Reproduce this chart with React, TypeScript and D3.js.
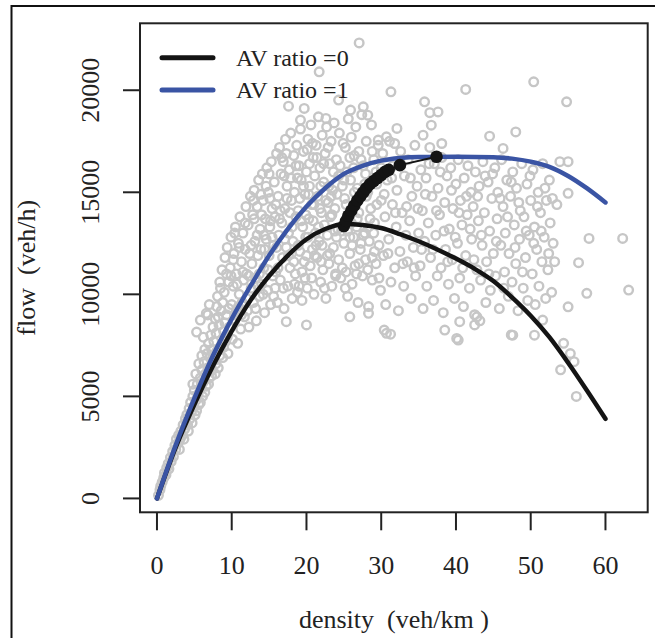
import React, { useEffect, useRef } from 'react'
import * as d3 from 'd3'

// axis ticks
const densityTicks = [0, 10, 20, 30, 40, 50, 60]
const flowTicks = [0, 5000, 10000, 15000, 20000]

// legend
const legendLabels = ['AV ratio =0', 'AV ratio =1']
const legendColors = ['#141414', '#3a54a4']

// fundamental diagram, AV ratio = 0
const curveAv0: [number, number][] = [
  [0, 0], [2.5, 2500], [5, 4600], [7.5, 6500], [10, 8200], [12.5, 9700], [15, 10900],
  [17.5, 11900], [20, 12700], [22.5, 13200], [25, 13450], [27.5, 13400], [30, 13250],
  [32.5, 12950], [35, 12600], [37.5, 12200], [40, 11750], [42.5, 11250], [45, 10650],
  [47.5, 9850], [50, 8950], [52.5, 7900], [55, 6650], [57.5, 5300], [60, 3900],
]

// fundamental diagram, AV ratio = 1
const curveAv1: [number, number][] = [
  [0, 0], [2.5, 2600], [5, 4900], [7.5, 7000], [10, 8800], [12.5, 10400], [15, 11900],
  [17.5, 13200], [20, 14300], [22.5, 15200], [25, 15900], [27.5, 16300], [30, 16550],
  [32.5, 16680], [35, 16730], [40, 16740], [45, 16720], [47.5, 16650], [50, 16500],
  [52.5, 16250], [55, 15800], [57.5, 15200], [60, 14500],
]

// capacity points as the AV ratio grows
const capacityPoints: [number, number][] = [
  [25.0, 13350], [25.3, 13600], [25.6, 13850], [26.0, 14100], [26.4, 14350], [26.8, 14600],
  [27.2, 14800], [27.6, 15000], [28.0, 15200], [28.5, 15400], [29.0, 15550], [29.5, 15700],
  [30.0, 15850], [30.5, 16000], [31.0, 16100], [32.5, 16330], [37.4, 16740],
]

// observed detector data (density, flow)
const observed: [number, number][] = [
  [0.2, 150], [0.4, 420], [0.5, 600], [0.7, 800], [0.9, 1000], [1.0, 1250], [1.2, 1150], [1.3, 1500],
  [1.5, 1700], [1.6, 1450], [1.8, 2000], [1.9, 1800], [2.1, 2300], [2.2, 2050], [2.4, 2600], [2.5, 2400],
  [2.6, 2900], [2.8, 2700], [2.9, 3100], [3.1, 2900], [3.2, 3300], [3.4, 3100], [3.5, 3600], [3.7, 3400],
  [3.8, 3900], [3.9, 3700],
  [3.0, 2400], [3.6, 2900], [4.2, 3300], [4.7, 3700], [5.3, 4300], [5.8, 4700], [6.4, 5200], [6.9, 5600],
  [7.3, 6000], [7.9, 6600], [8.4, 7000], [8.9, 7400], [9.4, 7900], [9.9, 8400], [10.4, 9000], [10.9, 9400],
  [4.0, 4100], [4.1, 3600], [4.3, 4400], [4.4, 3900], [4.5, 4700], [4.6, 4200], [4.8, 5000], [4.9, 4500],
  [5.0, 5300], [5.1, 4100], [5.2, 4800], [5.4, 5600], [5.5, 5100], [5.6, 4600], [5.8, 5900], [5.9, 5400],
  [6.0, 6300], [6.1, 5000], [6.2, 5700], [6.3, 6700], [6.5, 6100], [6.6, 5500], [6.7, 7100], [6.8, 6400],
  [6.9, 7600], [7.0, 5900], [7.1, 6900], [7.2, 8000], [7.3, 7300], [7.4, 6300], [7.5, 8400], [7.6, 7700],
  [7.7, 6800], [7.8, 8800], [7.9, 8100], [8.0, 7200],
  [5.8, 8740], [6.6, 9070], [5.3, 8150], [6.2, 7900], [7.0, 9500], [6.8, 8990],
  [4.8, 5600], [5.2, 6100], [5.6, 6600], [6.0, 7000], [6.4, 7300], [7.5, 7000], [7.8, 6100], [8.0, 9400],
  [8.1, 9900], [8.2, 6400], [8.3, 8500], [8.4, 10600], [8.5, 7400], [8.6, 9200], [8.7, 11200], [8.8, 6900],
  [8.9, 8200], [9.0, 10100], [9.1, 11800], [9.2, 7700], [9.3, 9000], [9.4, 12300], [9.5, 7100], [9.6, 10600],
  [9.7, 8400], [9.8, 11300], [9.9, 12800], [10.0, 9500], [10.1, 7800], [10.2, 10400], [10.3, 12000], [10.4, 8700],
  [10.5, 13300], [10.6, 11000], [10.7, 9200], [10.8, 7600], [10.9, 12500], [11.0, 10000], [11.1, 13800], [11.2, 8300],
  [11.3, 11600], [11.4, 9600], [11.5, 13000], [11.6, 10700], [11.7, 8900], [11.8, 12200], [11.9, 14300], [12.0, 11000],
  [8.2, 8900], [8.5, 10300], [8.8, 9600], [9.1, 8600], [9.3, 11000], [9.6, 9300], [9.9, 10900], [10.2, 11700],
  [10.4, 13000], [10.7, 10500], [11.0, 12300], [11.3, 9000], [11.5, 11100], [11.8, 13500], [12.0, 9800],
  [12.1, 9200], [12.2, 13400], [12.3, 8400], [12.4, 12000], [12.5, 14800], [12.6, 10300], [12.7, 11500], [12.8, 13900],
  [12.9, 9600], [13.0, 15100], [13.1, 12600], [13.2, 10800], [13.3, 8700], [13.4, 14300], [13.5, 11900], [13.6, 15600],
  [13.7, 9900], [13.8, 13200], [13.9, 12200], [14.0, 10500], [14.1, 15900], [14.2, 14600], [14.3, 11300], [14.4, 9100],
  [14.5, 13700], [14.6, 12700], [14.7, 16200], [14.8, 10200], [14.9, 15000], [15.0, 11900], [15.1, 13300], [15.2, 9500],
  [15.3, 16500], [15.4, 14200], [15.5, 10900], [15.6, 12400], [15.7, 15500], [15.8, 13800], [15.9, 11100], [16.0, 16900],
  [12.3, 10900], [12.6, 12400], [12.9, 14600], [13.2, 9300], [13.4, 12900], [13.7, 11000], [13.9, 14900], [14.2, 10000],
  [14.4, 12200], [14.6, 15300], [14.9, 11200], [15.1, 14700], [15.4, 12800], [15.6, 9900], [15.9, 14400], [13.0, 13700],
  [14.0, 13900], [15.0, 15900],
  [13.5, 10400], [14.3, 12900], [15.2, 13600], [15.8, 10300], [16.5, 14100], [17.3, 16900], [17.8, 14000], [18.3, 11600],
  [18.8, 15700], [19.3, 13600], [19.8, 10800], [20.3, 14900], [20.8, 17400], [21.3, 12400], [21.8, 14200], [22.3, 16400],
  [22.8, 11900], [23.3, 14800], [23.8, 13100], [24.3, 15800], [24.8, 11300], [25.3, 14400], [25.8, 12800], [26.3, 16200],
  [26.8, 13700], [27.3, 12500], [27.8, 15400], [28.3, 13300], [28.8, 11800], [29.3, 16000],
  [16.1, 9600], [16.2, 14800], [16.3, 12900], [16.4, 17200], [16.5, 10700], [16.6, 15900], [16.7, 13500], [16.8, 11800],
  [16.9, 16500], [17.0, 9300], [17.1, 14200], [17.2, 17600], [17.3, 12300], [17.4, 15300], [17.5, 10400], [17.6, 13000],
  [17.7, 16100], [17.8, 11300], [17.9, 17900], [18.0, 14600], [18.1, 9800], [18.2, 12600], [18.3, 16800], [18.4, 15000],
  [18.5, 11000], [18.6, 13800], [18.7, 17300], [18.8, 10100], [18.9, 14100], [19.0, 16300], [19.1, 12100], [19.2, 18100],
  [19.3, 15600], [19.4, 9700], [19.5, 13300], [19.6, 17000], [19.7, 11600], [19.8, 14900], [19.9, 12800], [20.0, 16000],
  [16.2, 11300], [16.4, 13700], [16.7, 16700], [16.9, 10300], [17.1, 12700], [17.4, 14700], [17.6, 11900], [17.9, 15700],
  [18.1, 13300], [18.4, 10500], [18.6, 16300], [18.9, 12400], [19.1, 14700], [19.4, 11100], [19.6, 15300], [19.9, 13900],
  [16.0, 12300], [17.0, 15800], [18.0, 12000], [19.0, 10400], [20.0, 11900], [20.1, 17100],
  [20.1, 10300], [20.2, 17600], [20.3, 13700], [20.4, 15300], [20.5, 11400], [20.6, 18300], [20.7, 14400], [20.8, 12200],
  [20.9, 16700], [21.0, 10000], [21.1, 15800], [21.2, 13000], [21.3, 17300], [21.4, 11800], [21.5, 14800], [21.6, 18700],
  [21.7, 12600], [21.8, 16200], [21.9, 10600], [22.0, 14000], [22.1, 17800], [22.2, 11200], [22.3, 15500], [22.4, 13400],
  [22.5, 16900], [22.6, 9800], [22.7, 18200], [22.8, 12900], [22.9, 14500], [23.0, 11500], [23.1, 16400], [23.2, 13800],
  [23.3, 17500], [23.4, 10400], [23.5, 15100], [23.6, 12300], [23.7, 18400], [23.8, 14200], [23.9, 11000], [24.0, 16600],
  [24.2, 13200], [24.4, 17900], [24.6, 10800], [24.8, 15300], [25.0, 12500],
  [20.2, 12800], [20.4, 16400], [20.7, 10800], [20.9, 13600], [21.1, 11900], [21.4, 16700], [21.6, 13300], [21.9, 15300],
  [22.1, 12400], [22.4, 10300], [22.6, 14600], [22.9, 17200], [23.1, 12000], [23.4, 13900], [23.6, 16000], [23.9, 10900],
  [24.1, 14900], [24.3, 11700], [24.5, 16300], [24.7, 13100], [24.9, 17400], [21.0, 14400], [22.0, 11600], [23.0, 15300],
  [24.0, 12800],
  [25.1, 14700], [25.2, 17200], [25.3, 11100], [25.4, 16000], [25.5, 9900], [25.6, 18600], [25.7, 13600], [25.8, 12000],
  [25.9, 15600], [26.0, 17700], [26.1, 10500], [26.2, 14300], [26.3, 12800], [26.4, 16800], [26.5, 11400], [26.6, 18200],
  [26.7, 13300], [26.8, 15200], [26.9, 9600], [27.0, 17000], [27.2, 12200], [27.3, 14900], [27.4, 18800], [27.5, 10900],
  [27.6, 16300], [27.8, 13000], [27.9, 11700], [28.0, 17500], [28.2, 15000], [28.3, 9400], [28.4, 12600], [28.6, 14200],
  [28.7, 18300], [28.8, 10700], [29.0, 16600], [29.1, 13500], [29.3, 11500], [29.4, 15400], [29.6, 17300], [29.7, 12400],
  [29.9, 10200], [30.0, 14600],
  [25.2, 10300], [25.5, 13100], [25.8, 16700], [26.1, 12400], [26.4, 15000], [26.7, 11000], [27.0, 14000], [27.3, 16600],
  [27.6, 12900], [27.9, 15900], [28.2, 11200], [28.5, 13700], [28.8, 17000], [29.1, 12100], [29.4, 14400], [29.7, 10800],
  [30.0, 16200], [25.0, 15600], [26.0, 13500], [27.0, 11500], [28.0, 14800], [29.0, 13000],
  [30.2, 16900], [30.3, 11900], [30.5, 13800], [30.6, 9500], [30.8, 15600], [31.0, 12700], [31.1, 17500], [31.3, 10600],
  [31.5, 14400], [31.6, 16300], [31.8, 11300], [32.0, 13300], [32.1, 15100], [32.3, 9200], [32.5, 12100], [32.6, 17000],
  [32.8, 14000], [33.0, 10400], [33.1, 15800], [33.3, 12900], [33.5, 11600], [33.6, 16600], [33.8, 13600], [34.0, 9800],
  [34.1, 14800], [34.3, 12300], [34.5, 17300], [34.6, 10900], [34.8, 15300], [35.0, 13000],
  [30.4, 14900], [30.9, 12000], [31.4, 15700], [31.9, 14000], [32.4, 16400], [32.9, 11500], [33.4, 14300], [33.9, 15700],
  [34.4, 11300], [34.9, 14200],
  [35.2, 11400], [35.3, 16100], [35.5, 14100], [35.6, 9300], [35.8, 12600], [36.0, 15700], [36.1, 10400], [36.3, 13500],
  [36.5, 17200], [36.6, 11800], [36.8, 14800], [37.0, 9700], [37.1, 16400], [37.3, 12900], [37.5, 10900], [37.6, 15200],
  [37.8, 13900], [38.0, 11300], [38.1, 16700], [38.3, 9100], [38.5, 14500], [38.6, 12200], [38.8, 15800], [39.0, 10500],
  [39.1, 13200], [39.3, 16200], [39.5, 11700], [39.6, 14200], [39.8, 9800], [40.0, 15400],
  [35.4, 12200], [35.9, 14900], [36.4, 16400], [36.9, 12200], [37.4, 14100], [37.9, 16000], [38.4, 13100], [38.9, 11600],
  [39.4, 15100], [39.9, 12800],
  [40.2, 12500], [40.3, 16600], [40.5, 10800], [40.6, 14600], [40.8, 13400], [41.0, 9400], [41.1, 15700], [41.3, 11900],
  [41.5, 13900], [41.6, 16300], [41.8, 10300], [42.0, 15000], [42.1, 12700], [42.3, 14300], [42.5, 9000], [42.6, 16000],
  [42.8, 11200], [43.0, 13600], [43.1, 15300], [43.3, 10700], [43.5, 12400], [43.6, 16500], [43.8, 14000], [44.0, 9600],
  [44.1, 11600], [44.3, 15500], [44.5, 13100], [44.6, 10200], [44.8, 14700], [45.0, 12000],
  [40.4, 14000], [40.9, 11300], [41.4, 14800], [41.9, 13200], [42.4, 11700], [42.9, 14800], [43.4, 12900], [43.9, 15800],
  [44.4, 11000], [44.9, 15900],
  [45.2, 16200], [45.3, 10900], [45.5, 13700], [45.6, 15000], [45.8, 9300], [46.0, 12400], [46.1, 16600], [46.3, 14300],
  [46.5, 11100], [46.6, 13000], [46.8, 15600], [47.0, 9900], [47.1, 12000], [47.3, 14800], [47.5, 10600], [47.6, 16000],
  [47.8, 13400], [48.0, 11500], [48.1, 15200], [48.3, 9200], [48.5, 12700], [48.6, 14100], [48.8, 16400], [49.0, 10300],
  [49.1, 13800], [49.3, 11800], [49.5, 15400], [49.6, 9700], [49.8, 12900], [50.0, 14600],
  [45.4, 12600], [45.9, 14700], [46.4, 10300], [46.9, 13800], [47.4, 15500], [47.9, 12300], [48.4, 14500], [48.9, 11100],
  [49.4, 13100], [49.9, 15800],
  [50.2, 11000], [50.3, 16100], [50.5, 13300], [50.6, 9500], [50.8, 12200], [51.0, 15000], [51.1, 10400], [51.3, 14000],
  [51.5, 11600], [51.6, 16400], [51.8, 12800], [52.0, 9800], [52.1, 14600], [52.3, 11200], [52.5, 15600], [52.6, 13500],
  [52.8, 10100], [53.0, 12500],
  [50.4, 12500], [50.9, 14300], [51.4, 13100], [51.9, 15200], [52.4, 12000], [52.9, 14700],
  [53.2, 11600], [53.5, 14400], [53.9, 16500], [54.4, 7600], [54.0, 6300], [55.0, 16500], [55.0, 14950], [55.0, 9390],
  [55.3, 7100], [55.8, 6700], [56.1, 5000], [56.4, 11550], [57.5, 10050], [57.8, 12740], [62.3, 12740], [63.1, 10210],
  [54.8, 19430], [50.4, 20410], [41.3, 20040], [31.3, 19920], [35.8, 19430], [36.5, 18900], [37.6, 18940], [36.7, 18290],
  [35.6, 17800], [32.1, 18130], [44.5, 17750], [48.0, 17960], [38.1, 17390], [46.3, 17150], [27.05, 22320], [21.7, 20900],
  [17.6, 19220], [19.7, 19110], [19.2, 18540], [24.3, 19520], [22.6, 18620], [25.9, 19030], [27.6, 19190], [28.2, 18780],
  [29.6, 17560], [30.7, 17720], [31.8, 17390],
  [17.3, 8660], [20.0, 8500], [25.8, 8900], [28.3, 9070], [30.4, 8250], [31.25, 8050], [38.5, 8250], [40.3, 7760],
  [40.5, 8660], [42.5, 8500], [42.8, 8900], [43.2, 8700], [47.6, 8000], [50.5, 8000], [51.6, 8740], [47.4, 8010],
  [40.1, 7840], [30.7, 8090],
]

const W = 655
const H = 638
const box = { left: 140, right: 647.7, top: 23.3, bottom: 512.3 }
const serif = '"Liberation Serif", "Times New Roman", serif'

const App = () => {
  const svgRef = useRef<SVGSVGElement>(null)

  useEffect(() => {
    const svg = d3.select(svgRef.current)
    svg.selectAll('*').remove()

    const x = d3.scaleLinear().domain([-2.27, 65.65]).range([box.left, box.right])
    const y = d3.scaleLinear().domain([-680, 23280]).range([box.bottom, box.top])

    // outer figure frame
    svg
      .append('rect')
      .attr('x', 11.5)
      .attr('y', 6)
      .attr('width', 700)
      .attr('height', 700)
      .attr('fill', 'none')
      .attr('stroke', '#111')
      .attr('stroke-width', 2)

    // scatter of observations
    svg
      .append('g')
      .selectAll('circle')
      .data(observed)
      .enter()
      .append('circle')
      .attr('cx', (d) => x(d[0]))
      .attr('cy', (d) => y(d[1]))
      .attr('r', 4.3)
      .attr('fill', 'none')
      .attr('stroke', '#c6c6c6')
      .attr('stroke-width', 2.4)

    const line = d3
      .line<[number, number]>()
      .x((d) => x(d[0]))
      .y((d) => y(d[1]))
      .curve(d3.curveMonotoneX)

    svg
      .append('path')
      .attr('d', line(curveAv0))
      .attr('fill', 'none')
      .attr('stroke', legendColors[0])
      .attr('stroke-width', 4.5)
      .attr('stroke-linecap', 'round')

    svg
      .append('path')
      .attr('d', line(curveAv1))
      .attr('fill', 'none')
      .attr('stroke', legendColors[1])
      .attr('stroke-width', 4.5)
      .attr('stroke-linecap', 'round')

    // capacity path
    svg
      .append('path')
      .attr('d', d3.line<[number, number]>().x((d) => x(d[0])).y((d) => y(d[1]))(capacityPoints))
      .attr('fill', 'none')
      .attr('stroke', '#141414')
      .attr('stroke-width', 2)

    svg
      .append('g')
      .selectAll('circle')
      .data(capacityPoints)
      .enter()
      .append('circle')
      .attr('cx', (d) => x(d[0]))
      .attr('cy', (d) => y(d[1]))
      .attr('r', 6.3)
      .attr('fill', '#141414')

    // plot box
    svg
      .append('rect')
      .attr('x', box.left)
      .attr('y', box.top)
      .attr('width', box.right - box.left)
      .attr('height', box.bottom - box.top)
      .attr('fill', 'none')
      .attr('stroke', '#222')
      .attr('stroke-width', 2)

    // x axis
    const xa = svg.append('g')
    xa.selectAll('line')
      .data(densityTicks)
      .enter()
      .append('line')
      .attr('x1', (d) => x(d))
      .attr('x2', (d) => x(d))
      .attr('y1', box.bottom)
      .attr('y2', box.bottom + 18)
      .attr('stroke', '#222')
      .attr('stroke-width', 2)
    xa.selectAll('text')
      .data(densityTicks)
      .enter()
      .append('text')
      .attr('x', (d) => x(d))
      .attr('y', box.bottom + 62)
      .attr('text-anchor', 'middle')
      .attr('font-family', serif)
      .attr('font-size', 26)
      .attr('fill', '#222')
      .text((d) => String(d))

    // y axis
    const ya = svg.append('g')
    ya.selectAll('line')
      .data(flowTicks)
      .enter()
      .append('line')
      .attr('x1', box.left - 17)
      .attr('x2', box.left)
      .attr('y1', (d) => y(d))
      .attr('y2', (d) => y(d))
      .attr('stroke', '#222')
      .attr('stroke-width', 2)
    ya.selectAll('text')
      .data(flowTicks)
      .enter()
      .append('text')
      .attr('transform', (d) => `translate(99, ${y(d)}) rotate(-90)`)
      .attr('text-anchor', 'middle')
      .attr('font-family', serif)
      .attr('font-size', 26)
      .attr('fill', '#222')
      .text((d) => String(d))

    // axis titles
    svg
      .append('text')
      .attr('x', (box.left + box.right) / 2)
      .attr('y', 628)
      .attr('text-anchor', 'middle')
      .attr('font-family', serif)
      .attr('font-size', 26)
      .attr('fill', '#222')
      .style('white-space', 'pre')
      .text('density  (veh/km )')

    svg
      .append('text')
      .attr('transform', `translate(35, ${(box.top + box.bottom) / 2}) rotate(-90)`)
      .attr('text-anchor', 'middle')
      .attr('font-family', serif)
      .attr('font-size', 26)
      .attr('fill', '#222')
      .style('white-space', 'pre')
      .text('flow  (veh/h)')

    // legend
    const lg = svg.append('g')
    legendLabels.forEach((label, i) => {
      const ly = 57.7 + i * 32.3
      lg.append('line')
        .attr('x1', 162)
        .attr('x2', 213)
        .attr('y1', ly)
        .attr('y2', ly)
        .attr('stroke', legendColors[i])
        .attr('stroke-width', 5)
        .attr('stroke-linecap', 'round')
      lg.append('text')
        .attr('x', 236)
        .attr('y', ly)
        .attr('dy', '0.35em')
        .attr('font-family', serif)
        .attr('font-size', 24)
        .attr('fill', '#222')
        .style('white-space', 'pre')
        .text(label)
    })
  }, [])

  return (
    <svg
      ref={svgRef}
      width={W}
      height={H}
      style={{ position: 'absolute', left: 0, top: 0, background: '#fff' }}
    ></svg>
  )
}

export default App
